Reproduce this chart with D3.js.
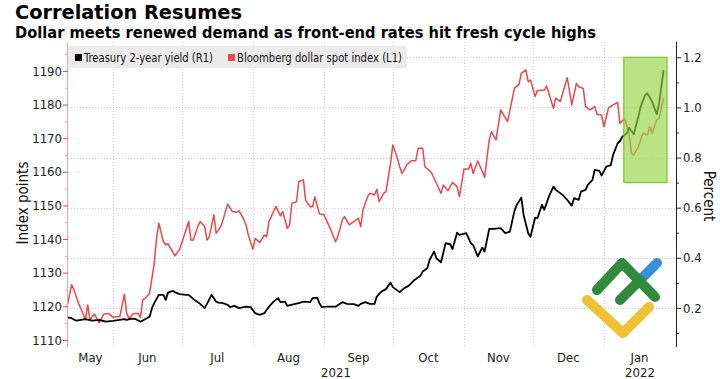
<!DOCTYPE html>
<html><head><meta charset="utf-8">
<script src="https://cdn.jsdelivr.net/npm/d3@7"></script>
<style>
html,body{margin:0;padding:0;background:#fff;}
svg{display:block;font-family:"DejaVu Sans Condensed","DejaVu Sans",sans-serif;}
</style></head><body>
<svg id="chart" width="720" height="379"></svg>
<script>
const title = "Correlation Resumes";
const subtitle = "Dollar meets renewed demand as front-end rates hit fresh cycle highs";
const seriesNames = ["Treasury 2-year yield (R1)", "Bloomberg dollar spot index (L1)"];
const leftAxisTitle = "Index points";
const rightAxisTitle = "Percent";
const leftTicks = [1110,1120,1130,1140,1150,1160,1170,1180,1190];
const leftMinorTicks = [1115,1125,1135,1145,1155,1165,1175,1185,1195];
const rightTicks = [0.2,0.4,0.6,0.8,1.0,1.2];
const rightMinorTicks = [0.1,0.3,0.5,0.7,0.9,1.1];
const highlightDates = ["2022-01-09T16:00","2022-01-28T12:00"];
const highlightRange = [0.70, 1.20];

const dollarDates = ["2021-05-12","2021-05-14","2021-05-15","2021-05-17","2021-05-18","2021-05-20","2021-05-21","2021-05-22","2021-05-24","2021-05-25","2021-05-26","2021-05-28","2021-05-30","2021-06-01","2021-06-02","2021-06-04","2021-06-06","2021-06-07","2021-06-08","2021-06-10","2021-06-12","2021-06-13","2021-06-14","2021-06-15","2021-06-17","2021-06-19","2021-06-20","2021-06-21","2021-06-23","2021-06-24","2021-06-25","2021-06-27","2021-06-28","2021-06-30","2021-07-01","2021-07-04","2021-07-05","2021-07-06","2021-07-08","2021-07-09","2021-07-11","2021-07-12","2021-07-13","2021-07-15","2021-07-16","2021-07-18","2021-07-19","2021-07-21","2021-07-23","2021-07-25","2021-07-26","2021-07-28","2021-07-29","2021-07-30","2021-08-01","2021-08-02","2021-08-04","2021-08-06","2021-08-07","2021-08-08","2021-08-10","2021-08-11","2021-08-13","2021-08-14","2021-08-16","2021-08-17","2021-08-18","2021-08-20","2021-08-21","2021-08-23","2021-08-24","2021-08-26","2021-08-27","2021-08-28","2021-08-30","2021-09-01","2021-09-02","2021-09-04","2021-09-06","2021-09-07","2021-09-09","2021-09-10","2021-09-12","2021-09-14","2021-09-16","2021-09-17","2021-09-18","2021-09-20","2021-09-21","2021-09-23","2021-09-24","2021-09-25","2021-09-27","2021-09-28","2021-09-30","2021-10-01","2021-10-03","2021-10-04","2021-10-05","2021-10-07","2021-10-09","2021-10-11","2021-10-12","2021-10-14","2021-10-15","2021-10-17","2021-10-18","2021-10-20","2021-10-22","2021-10-23","2021-10-25","2021-10-27","2021-10-29","2021-10-30","2021-11-01","2021-11-03","2021-11-04","2021-11-05","2021-11-07","2021-11-09","2021-11-10","2021-11-12","2021-11-13","2021-11-15","2021-11-17","2021-11-20","2021-11-23","2021-11-25","2021-11-26","2021-11-28","2021-11-29","2021-11-30","2021-12-02","2021-12-03","2021-12-06","2021-12-07","2021-12-10","2021-12-11","2021-12-13","2021-12-16","2021-12-18","2021-12-20","2021-12-21","2021-12-23","2021-12-24","2021-12-26","2021-12-28","2021-12-29","2021-12-31","2022-01-01","2022-01-03","2022-01-05","2022-01-07","2022-01-08","2022-01-10","2022-01-12","2022-01-13","2022-01-14","2022-01-16","2022-01-18","2022-01-20","2022-01-21","2022-01-22","2022-01-24","2022-01-25","2022-01-27"];
const dollarValues = [1119.9,1126.4,1124.9,1120.9,1119.4,1116.0,1120.4,1116.0,1117.7,1116.4,1115.1,1117.7,1117.9,1116.7,1116.9,1116.9,1123.6,1117.9,1116.4,1117.9,1117.9,1116.7,1121.9,1122.4,1123.9,1132.8,1140.2,1144.7,1139.2,1138.3,1138.6,1136.3,1135.0,1136.8,1138.8,1145.2,1139.7,1139.7,1143.7,1145.2,1143.7,1139.7,1140.7,1147.2,1141.7,1143.7,1145.7,1150.4,1148.2,1148.0,1148.4,1145.9,1144.2,1141.2,1137.0,1140.2,1139.0,1141.2,1140.7,1145.2,1148.2,1149.7,1146.9,1148.2,1143.2,1144.2,1150.6,1151.1,1157.1,1157.6,1151.6,1149.6,1149.6,1152.6,1147.5,1147.2,1145.7,1142.7,1139.2,1140.7,1145.7,1146.7,1144.2,1145.2,1146.2,1143.7,1148.7,1152.6,1153.6,1153.1,1154.8,1151.1,1153.6,1154.1,1162.5,1168.0,1164.0,1161.5,1159.5,1162.0,1163.3,1163.3,1167.0,1167.0,1161.5,1160.3,1159.5,1156.6,1153.6,1156.1,1154.4,1156.8,1155.6,1152.6,1160.8,1160.8,1162.5,1159.5,1163.2,1160.1,1158.3,1169.5,1171.9,1169.5,1178.4,1174.9,1184.8,1186.0,1189.3,1190.3,1186.8,1187.3,1182.4,1184.1,1184.3,1185.5,1178.9,1181.9,1180.9,1188.0,1179.9,1186.3,1185.3,1184.8,1179.4,1178.4,1179.4,1177.1,1176.9,1173.4,1179.0,1179.9,1180.6,1174.4,1175.9,1171.4,1165.5,1165.0,1167.5,1171.5,1171.0,1173.4,1171.4,1175.4,1175.9,1181.9];

const yieldDates = ["2021-05-12","2021-05-14","2021-05-16","2021-05-18","2021-05-20","2021-05-23","2021-05-26","2021-05-29","2021-06-01","2021-06-04","2021-06-06","2021-06-07","2021-06-09","2021-06-11","2021-06-13","2021-06-15","2021-06-17","2021-06-18","2021-06-19","2021-06-21","2021-06-23","2021-06-24","2021-06-25","2021-06-27","2021-06-28","2021-06-30","2021-07-03","2021-07-04","2021-07-06","2021-07-08","2021-07-09","2021-07-11","2021-07-12","2021-07-14","2021-07-16","2021-07-17","2021-07-19","2021-07-21","2021-07-22","2021-07-24","2021-07-26","2021-07-29","2021-07-31","2021-08-02","2021-08-04","2021-08-06","2021-08-08","2021-08-10","2021-08-12","2021-08-13","2021-08-15","2021-08-16","2021-08-19","2021-08-21","2021-08-23","2021-08-26","2021-08-27","2021-08-29","2021-08-30","2021-08-31","2021-09-02","2021-09-06","2021-09-09","2021-09-11","2021-09-14","2021-09-16","2021-09-17","2021-09-19","2021-09-21","2021-09-23","2021-09-24","2021-09-26","2021-09-28","2021-09-30","2021-10-01","2021-10-04","2021-10-06","2021-10-08","2021-10-10","2021-10-13","2021-10-14","2021-10-16","2021-10-17","2021-10-19","2021-10-20","2021-10-22","2021-10-24","2021-10-26","2021-10-27","2021-10-29","2021-10-30","2021-11-02","2021-11-04","2021-11-05","2021-11-07","2021-11-09","2021-11-10","2021-11-12","2021-11-14","2021-11-17","2021-11-19","2021-11-21","2021-11-23","2021-11-24","2021-11-26","2021-11-27","2021-11-29","2021-11-30","2021-12-02","2021-12-03","2021-12-05","2021-12-06","2021-12-08","2021-12-10","2021-12-11","2021-12-14","2021-12-16","2021-12-18","2021-12-19","2021-12-21","2021-12-22","2021-12-24","2021-12-25","2021-12-27","2021-12-28","2021-12-30","2021-12-31","2022-01-02","2022-01-04","2022-01-05","2022-01-07","2022-01-08","2022-01-09","2022-01-11","2022-01-12","2022-01-14","2022-01-16","2022-01-17","2022-01-19","2022-01-20","2022-01-22","2022-01-24","2022-01-25","2022-01-27"];
const yieldValues = [0.162,0.159,0.149,0.152,0.155,0.149,0.152,0.145,0.148,0.152,0.155,0.152,0.157,0.155,0.145,0.155,0.165,0.199,0.219,0.252,0.252,0.232,0.261,0.268,0.263,0.255,0.252,0.252,0.236,0.223,0.216,0.199,0.216,0.252,0.225,0.221,0.219,0.212,0.203,0.208,0.199,0.205,0.203,0.179,0.172,0.179,0.205,0.225,0.239,0.223,0.225,0.208,0.215,0.219,0.225,0.223,0.239,0.241,0.219,0.203,0.205,0.205,0.223,0.216,0.215,0.208,0.216,0.223,0.216,0.216,0.245,0.265,0.275,0.301,0.283,0.263,0.279,0.289,0.308,0.328,0.345,0.358,0.391,0.425,0.398,0.382,0.458,0.454,0.435,0.500,0.491,0.498,0.458,0.451,0.405,0.441,0.425,0.515,0.515,0.518,0.498,0.504,0.587,0.611,0.640,0.571,0.498,0.484,0.560,0.558,0.611,0.591,0.644,0.684,0.671,0.651,0.631,0.608,0.638,0.631,0.664,0.671,0.691,0.711,0.751,0.747,0.728,0.764,0.770,0.810,0.857,0.866,0.883,0.897,0.919,0.893,0.963,1.003,1.050,1.056,1.023,0.973,1.013,1.149];

// decorative watermark logo strokes
const logoStrokes = [
  {color:"#3a8fd9", pts:[[639,281],[657,263]]},
  {color:"#2f8a3c", pts:[[620,300],[640,280]]},
  {color:"#2f8a3c", pts:[[597,290],[622,263],[655,297]]},
  {color:"#efc135", pts:[[587,300],[623,333],[649,307]]}
];

const W = 720, H = 379;
const L = 68, R = 676, T = 42, B = 346;
const parse = d3.timeParse("%Y-%m-%d");
const parseT = d3.timeParse("%Y-%m-%dT%H:%M");
const RED = "#e5484f";

const svg = d3.select("#chart");
svg.append("rect").attr("width",W).attr("height",H).attr("fill","#fff");

const x = d3.scaleTime().domain([new Date(2021,4,12,10), new Date(2022,1,1,10)]).range([L,R]);
const yL = d3.scaleLinear().domain([1108.2,1198.6]).range([B,T]);
const yR = d3.scaleLinear().domain([0.048,1.261]).range([B,T]);

// gridlines
const grid = svg.append("g").attr("stroke","#cfcfcf").attr("stroke-width",1).attr("stroke-dasharray","1,2");
const monthStarts = d3.timeMonth.range(d3.timeMonth.ceil(x.domain()[0]), x.domain()[1]).filter(d => R - x(d) > 20);
grid.selectAll("line.v").data(monthStarts).join("line")
  .attr("x1",d=>Math.round(x(d))+0.5).attr("x2",d=>Math.round(x(d))+0.5).attr("y1",T).attr("y2",B+1);
grid.selectAll("line.h").data(rightTicks).join("line")
  .attr("x1",L).attr("x2",R).attr("y1",d=>Math.round(yR(d))+0.5).attr("y2",d=>Math.round(yR(d))+0.5);

// legend
const lg = svg.append("g");
lg.append("rect").attr("x",68).attr("y",46).attr("width",339).attr("height",22).attr("rx",2).attr("fill","#ebebeb");
lg.append("rect").attr("x",75).attr("y",54).attr("width",7).attr("height",7).attr("fill","#000");
lg.append("text").attr("x",84).attr("y",61.5).attr("font-size",12).attr("fill","#111")
  .attr("textLength",129).attr("lengthAdjust","spacingAndGlyphs").text(seriesNames[0]);
lg.append("rect").attr("x",228).attr("y",54).attr("width",7).attr("height",7).attr("fill",RED);
lg.append("text").attr("x",237).attr("y",61.5).attr("font-size",12).attr("fill","#111")
  .attr("textLength",165).attr("lengthAdjust","spacingAndGlyphs").text(seriesNames[1]);

// lines
const dollar = dollarDates.map((d,i)=>({date:parse(d), v:dollarValues[i]}));
const yld = yieldDates.map((d,i)=>({date:parse(d), v:yieldValues[i]}));
svg.append("path").datum(dollar).attr("fill","none").attr("stroke",RED).attr("stroke-width",1.5)
  .attr("stroke-linejoin","round")
  .attr("d", d3.line().x(d=>x(d.date)).y(d=>yL(d.v)));
svg.append("path").datum(yld).attr("fill","none").attr("stroke","#000").attr("stroke-width",1.8)
  .attr("stroke-linejoin","round")
  .attr("d", d3.line().x(d=>x(d.date)).y(d=>yR(d.v)));

// highlight box
const hx0 = x(parseT(highlightDates[0])), hx1 = x(parseT(highlightDates[1]));
svg.append("rect").attr("x",hx0).attr("y",yR(highlightRange[1])).attr("width",hx1-hx0)
  .attr("height",yR(highlightRange[0])-yR(highlightRange[1]))
  .attr("fill","#96d548").attr("fill-opacity",0.66).attr("stroke","#78c334").attr("stroke-width",1.2);

// logo
const lineGen = d3.line();
svg.append("g").selectAll("path").data(logoStrokes).join("path")
  .attr("d",d=>lineGen(d.pts)).attr("fill","none").attr("stroke",d=>d.color)
  .attr("stroke-width",10).attr("stroke-linecap","round").attr("stroke-linejoin","round");

// left axis
const axL = svg.append("g").attr("transform",`translate(${L},0)`)
  .call(d3.axisLeft(yL).tickValues(leftTicks).tickSize(5).tickPadding(1).tickFormat(d3.format("d")));
axL.attr("font-family",null);
axL.select(".domain").attr("stroke","#f2a3a6").attr("d",`M-0.5,${T}V${B+1}`);
axL.selectAll(".tick line").attr("stroke",RED);
axL.selectAll(".tick text").attr("font-size",13).attr("fill","#222");
const axLm = svg.append("g").attr("transform",`translate(${L},0)`)
  .call(d3.axisLeft(yL).tickValues(leftMinorTicks).tickSize(3).tickFormat(""));
axLm.select(".domain").remove();
axLm.selectAll(".tick line").attr("stroke","#f2a3a6");

// right axis
const axR = svg.append("g").attr("transform",`translate(${R},0)`)
  .call(d3.axisRight(yR).tickValues(rightTicks).tickSize(5).tickPadding(2).tickFormat(d3.format(".1f")));
axR.attr("font-family",null);
axR.select(".domain").attr("stroke","#222").attr("d",`M0.5,${T}V${B+1}`);
axR.selectAll(".tick line").attr("stroke","#222");
axR.selectAll(".tick text").attr("font-size",13).attr("fill","#222");
const axRm = svg.append("g").attr("transform",`translate(${R},0)`)
  .call(d3.axisRight(yR).tickValues(rightMinorTicks).tickSize(3).tickFormat(""));
axRm.select(".domain").remove();
axRm.selectAll(".tick line").attr("stroke","#222");

// month & year labels centred in their visible span
const [d0,d1] = x.domain();
const span = (d, interval) => {
  const a = d < d0 ? d0 : d;
  const e = interval.offset(d,1);
  const b = e > d1 ? d1 : e;
  return [x(a), x(b)];
};
const months = d3.timeMonth.range(d3.timeMonth.floor(d0), d1)
  .filter(d => { const s = span(d, d3.timeMonth); return s[1]-s[0] > 20; });
svg.append("g").selectAll("text").data(months).join("text")
  .attr("x",d=>{const s=span(d,d3.timeMonth); return (s[0]+s[1])/2;})
  .attr("y",362).attr("text-anchor","middle").attr("font-size",13).attr("fill","#222")
  .text(d3.timeFormat("%b"));
const years = d3.timeYear.range(d3.timeYear.floor(d0), d1);
svg.append("g").selectAll("text").data(years).join("text")
  .attr("x",d=>{const s=span(d,d3.timeYear); return (s[0]+s[1])/2;})
  .attr("y",377).attr("text-anchor","middle").attr("font-size",13).attr("fill","#222")
  .text(d3.timeFormat("%Y"));

// axis titles
svg.append("text").attr("transform",`translate(28,${(T+B)/2+9}) rotate(-90)`).attr("text-anchor","middle")
  .attr("font-size",15).attr("fill","#111").text(leftAxisTitle);
svg.append("text").attr("transform",`translate(704,${(T+B)/2+2}) rotate(90)`).attr("text-anchor","middle")
  .attr("font-size",15).attr("fill","#111").text(rightAxisTitle);

// titles
svg.append("text").attr("x",15).attr("y",18.5).attr("font-size",20).attr("font-weight","bold").attr("fill","#000")
  .attr("textLength",227).attr("lengthAdjust","spacingAndGlyphs").text(title);
svg.append("text").attr("x",15).attr("y",37.5).attr("font-size",15).attr("font-weight","bold").attr("fill","#000")
  .attr("textLength",581).attr("lengthAdjust","spacingAndGlyphs").text(subtitle);
</script>
</body></html>
